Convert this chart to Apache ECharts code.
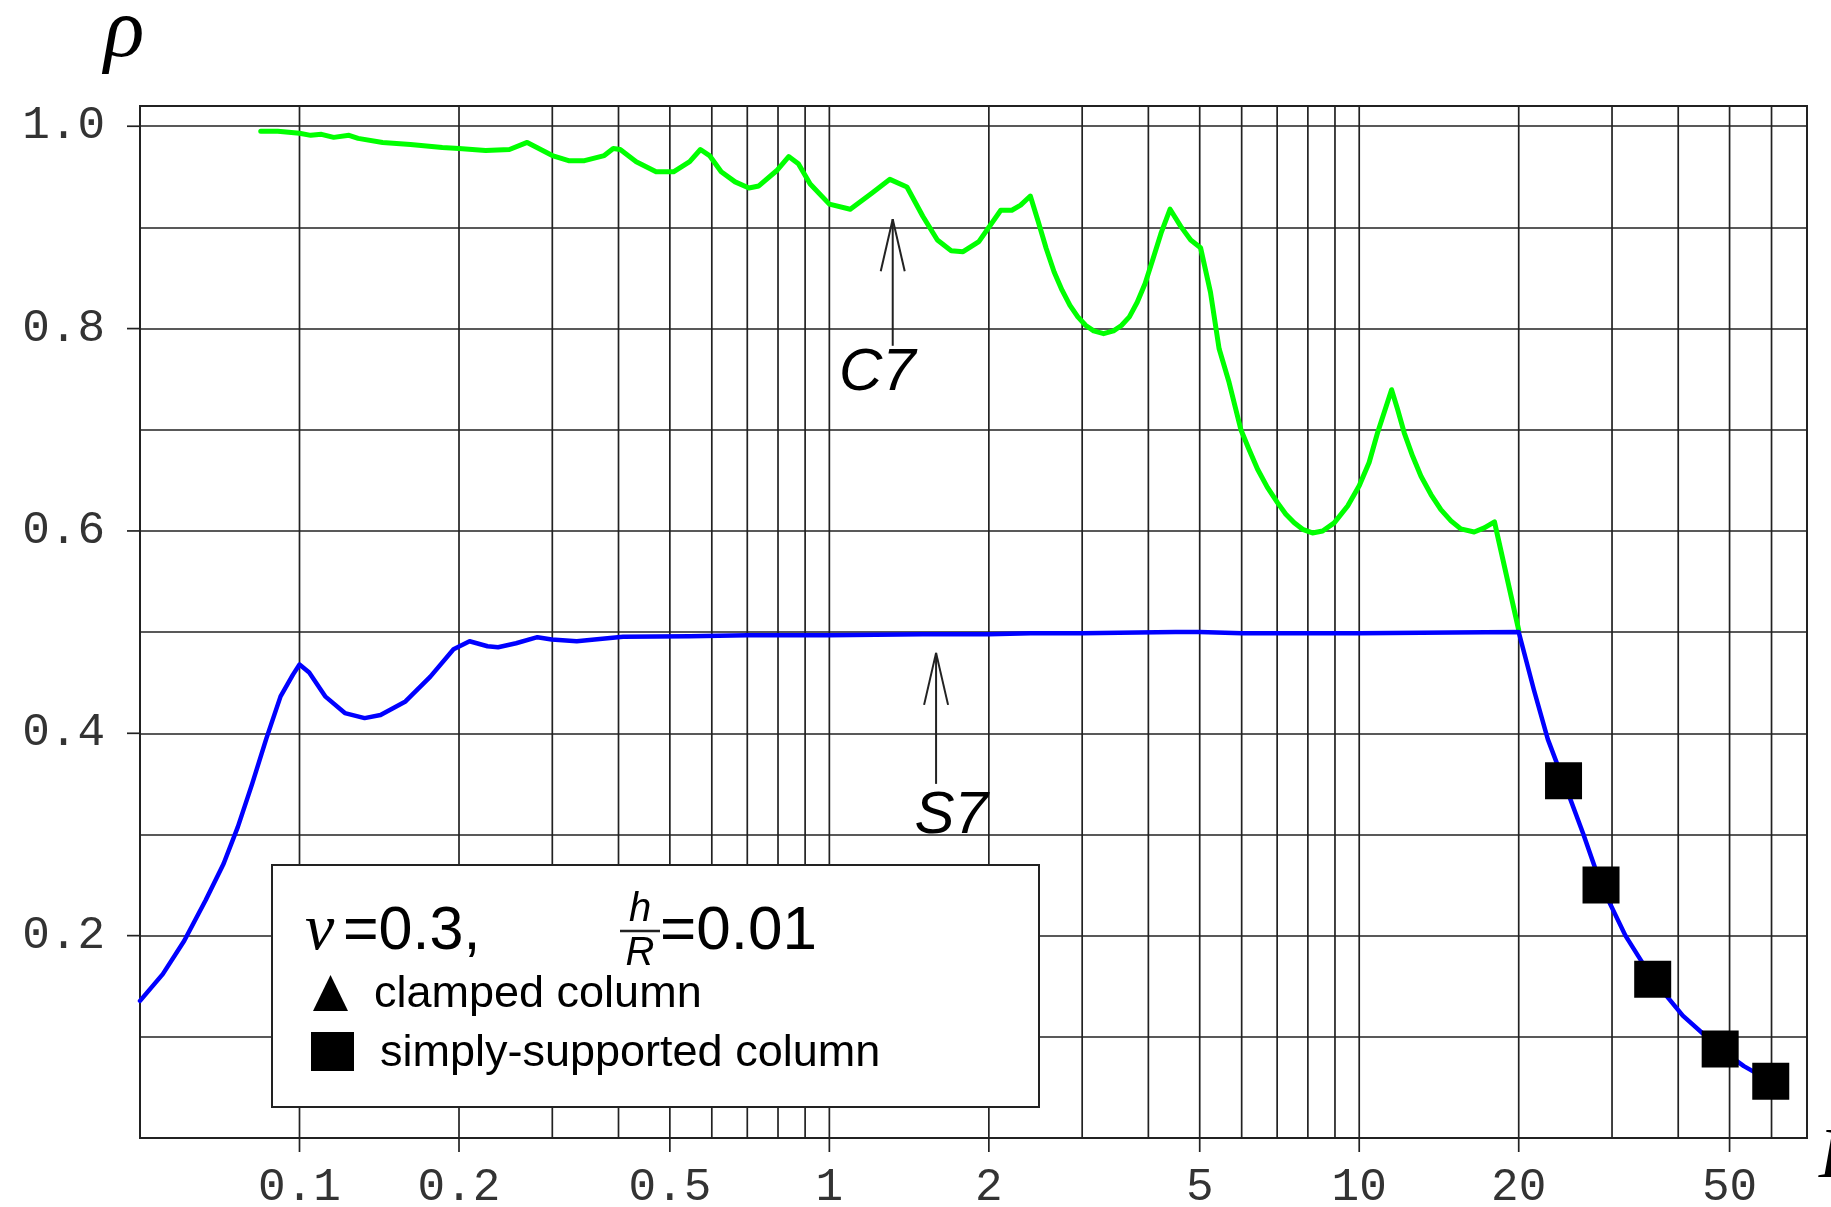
<!DOCTYPE html>
<html><head><meta charset="utf-8">
<script src="https://cdn.jsdelivr.net/npm/echarts@6/dist/echarts.min.js"></script>
<style>html,body{margin:0;padding:0;background:#fff}#c{width:1831px;height:1207px}</style>
</head><body><div id="c"></div>
<script>
// ---- axis values ----
const xGridValues = [0.1,0.2,0.3,0.4,0.5,0.6,0.7,0.8,0.9,1,2,3,4,5,6,7,8,9,10,20,30,40,50,60];
const xTickLabels = [0.1,0.2,0.5,1,2,5,10,20,50];
const yTickLabels = [0.2,0.4,0.6,0.8,1.0];

// ---- C7 curve (green) ----
const c7X = [0.0845,0.091,0.1,0.105,0.110,0.116,0.124,0.129,0.1435,0.162,0.186,0.2,0.2245,0.249,0.269,0.3,0.322,0.345,0.376,0.391,0.403,0.432,0.471,0.508,0.545,0.571,0.594,0.625,0.664,0.705,0.736,0.795,0.838,0.874,0.920,1.0,1.095,1.204,1.301,1.401,1.501,1.599,1.698,1.788,1.915,2.106,2.21,2.296,2.395,2.479,2.566,2.656,2.749,2.845,2.944,3.048,3.154,3.293,3.438,3.558,3.683,3.811,3.944,4.082,4.225,4.396,4.604,4.808,5.018,5.239,5.44,5.68,5.98,6.19,6.43,6.71,7.01,7.27,7.54,7.82,8.16,8.53,8.97,9.51,10,10.44,10.83,11.51,11.81,12.16,12.61,13.08,13.66,14.26,14.9,15.55,16.48,17.22,18.0,20.0];
const c7Y = [0.995,0.995,0.993,0.991,0.992,0.989,0.991,0.988,0.984,0.982,0.979,0.978,0.976,0.977,0.984,0.971,0.966,0.966,0.971,0.978,0.977,0.965,0.955,0.955,0.965,0.977,0.971,0.955,0.945,0.939,0.941,0.956,0.970,0.963,0.943,0.923,0.918,0.934,0.9475,0.940,0.911,0.8875,0.877,0.876,0.886,0.917,0.917,0.922,0.931,0.9056,0.8792,0.856,0.838,0.823,0.8116,0.803,0.7977,0.795,0.7977,0.803,0.8116,0.826,0.8446,0.869,0.894,0.918,0.901,0.8875,0.880,0.836,0.780,0.7469,0.700,0.681,0.661,0.643,0.628,0.6165,0.608,0.6016,0.598,0.600,0.608,0.6247,0.6446,0.6677,0.697,0.7396,0.7205,0.697,0.674,0.654,0.636,0.621,0.610,0.602,0.599,0.603,0.609,0.502];

// ---- S7 curve (blue) ----
const s7X = [0.05,0.0552,0.0606,0.0665,0.0719,0.0765,0.0814,0.0866,0.0921,0.0972,0.1,0.1043,0.1118,0.1218,0.1327,0.1422,0.1585,0.1766,0.1953,0.2094,0.2264,0.237,0.2563,0.2812,0.2993,0.3336,0.3605,0.408,0.546,0.7,1.0,1.5,2.0,2.4,3,4.5,5,6,8,10,15,20,21.36,22.7,24.3,26.5,28.6,31.8,35.8,40.8,48.0,53.2,59.8];
const s7Y = [0.1355,0.162,0.195,0.235,0.271,0.3075,0.350,0.395,0.4365,0.458,0.468,0.460,0.4365,0.420,0.415,0.418,0.4315,0.456,0.483,0.491,0.486,0.485,0.489,0.495,0.4927,0.491,0.4927,0.4954,0.496,0.497,0.497,0.498,0.498,0.499,0.499,0.500,0.500,0.499,0.499,0.499,0.4995,0.500,0.443,0.394,0.353,0.300,0.250,0.200,0.157,0.121,0.088,0.071,0.056];

// ---- simply-supported column points (squares) ----
const ssColX = [24.3,28.6,35.8,48.0,59.8];
const ssColY = [0.353,0.250,0.157,0.088,0.056];

const zip = (a,b)=>a.map((v,i)=>[v,b[i]]);
const W = 1831, H = 1207;
const G = {left:140, right:24, top:106, bottom:69};
const INK = '#222';
const MONO = '"Liberation Mono", "Courier New", monospace';

const chart = echarts.init(document.getElementById('c'), null, {renderer:'canvas'});
chart.setOption({
  animation:false,
  backgroundColor:'#fff',
  grid:{left:G.left,right:G.right,top:G.top,bottom:G.bottom,show:true,borderColor:INK,borderWidth:2,backgroundColor:'transparent'},
  xAxis:{type:'log',logBase:10,min:0.05,max:70,
    axisLine:{show:false},axisTick:{show:false},axisLabel:{show:false},splitLine:{show:false}},
  yAxis:{type:'value',min:0,max:1.02,interval:0.1,
    axisLine:{show:false},axisTick:{show:false},
    axisLabel:{margin:35,fontFamily:MONO,fontSize:46,color:'#333',
      formatter:v=>{const k=Math.round(v*10);return (Math.abs(v*10-k)<1e-6 && yTickLabels.some(t=>Math.round(t*10)===k))?(k/10).toFixed(1):'';}},
    splitLine:{show:true,lineStyle:{color:INK,width:1.7}}},
  series:[
    {name:'C7',type:'line',data:zip(c7X,c7Y),symbol:'none',z:3,
      lineStyle:{color:'#00ff00',width:5,cap:'round',join:'round'}},
    {name:'S7',type:'line',data:zip(s7X,s7Y),symbol:'none',z:3,
      lineStyle:{color:'#0000ff',width:4.5,cap:'round',join:'round'}},
    {name:'simply-supported column',type:'scatter',data:zip(ssColX,ssColY),symbol:'rect',symbolSize:37,z:5,
      itemStyle:{color:'#000',opacity:1}}
  ]
});

const xp = v=>chart.convertToPixel({xAxisIndex:0},v);
const yp = v=>chart.convertToPixel({yAxisIndex:0},v);
const yTop = G.top, yBot = H - G.bottom;
const els = [];
const line = (x1,y1,x2,y2,w,z)=>({type:'line',silent:true,z:z||1,shape:{x1,y1,x2,y2},style:{stroke:INK,lineWidth:w||1.7}});
const text = (t,x,y,font,align,z)=>({type:'text',silent:true,z:z||10,x,y,
  style:{text:t,font,fill:'#000',align:align||'left',textAlign:align||'left',verticalAlign:'middle',textVerticalAlign:'middle'}});

// vertical grid lines
xGridValues.forEach(v=>{const p=xp(v);els.push(line(p,yTop,p,yBot,1.7,1));});
// x ticks + labels
xTickLabels.forEach(v=>{const p=xp(v);
  els.push(line(p,yBot,p,yBot+14,1.7,1));
  els.push({type:'text',silent:true,z:1,x:p,y:1188,style:{text:String(v),font:'46px '+MONO,fill:'#333',align:'center',textAlign:'center',verticalAlign:'middle',textVerticalAlign:'middle'}});
});
// y ticks
yTickLabels.forEach(v=>{const p=yp(v);els.push(line(G.left-13,p,G.left,p,1.7,1));});

// axis titles
els.push(text('ρ',104,34,'italic 84px "Liberation Serif", serif','left'));
els.push(text('L',1819,1158,'italic 72px "Liberation Serif", serif','left'));

// arrows
function arrow(x,yBase,yTip){
  const px=xp(x), b=yp(yBase), t=yp(yTip);
  els.push(line(px,b,px,t,2,10));
  els.push(line(px,t,px-12,t+52,2,10));
  els.push(line(px,t,px+12,t+52,2,10));
}
arrow(1.317,0.783,0.908);
arrow(1.59,0.350,0.4795);
els.push(text('C7',xp(1.232),yp(0.756),'italic 60px "Liberation Sans", sans-serif','center'));
els.push(text('S7',xp(1.698),yp(0.318),'italic 60px "Liberation Sans", sans-serif','center'));

// legend box
els.push({type:'rect',silent:true,z:9,shape:{x:272,y:865,width:767,height:242},style:{fill:'#fff',stroke:INK,lineWidth:2}});
els.push(text('ν',305,932,'italic 66px "Liberation Serif", serif','left'));
els.push(text('=0.3,',343,932,'61px "Liberation Sans", sans-serif','left'));
els.push(text('h',640,910,'italic 40px "Liberation Sans", sans-serif','center'));
els.push(line(620,931,660,931,2.5,10));
els.push(text('R',640,954,'italic 40px "Liberation Sans", sans-serif','center'));
els.push(text('=0.01',660,932,'62px "Liberation Sans", sans-serif','left'));
els.push({type:'polygon',silent:true,z:10,shape:{points:[[313,1011],[348,1011],[330.5,975]]},style:{fill:'#000'}});
els.push(text('clamped column',374,995,'45px "Liberation Sans", sans-serif','left'));
els.push({type:'rect',silent:true,z:10,shape:{x:311,y:1032,width:43,height:39},style:{fill:'#000'}});
els.push(text('simply-supported column',380,1054,'45px "Liberation Sans", sans-serif','left'));

chart.setOption({graphic:{elements:els}});
</script></body></html>
